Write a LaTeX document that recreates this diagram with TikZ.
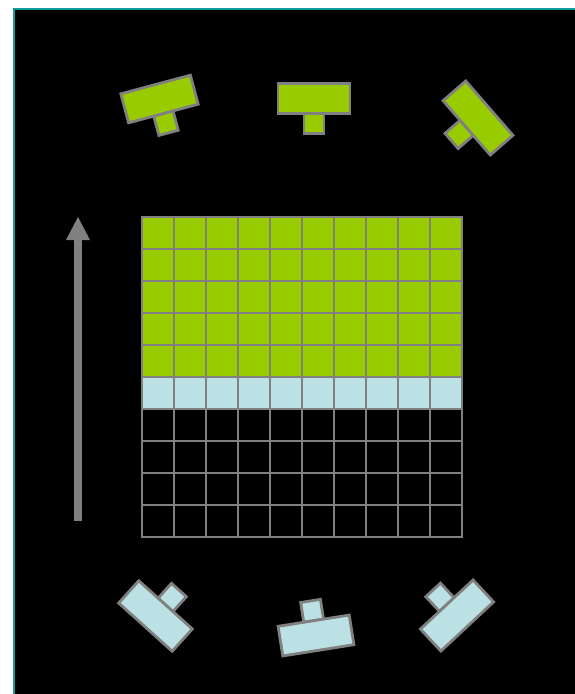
\documentclass[tikz,border=0pt]{standalone}
\definecolor{tgreen}{HTML}{99CC00}
\definecolor{tblue}{HTML}{BBE1E5}
\definecolor{tgray}{HTML}{808080}
\definecolor{tteal}{HTML}{139A9A}
\tikzset{
  gridline/.style={draw=tgray, line width=2.8pt},
  tshape/.pic={
    \fill[#1, draw=tgray, line width=2.8pt] (-10,15) rectangle (10,35);
    \fill[#1, draw=tgray, line width=2.8pt] (-36,-15) rectangle (36,15);
  },
  tshapeup/.pic={
    \fill[#1, draw=tgray, line width=2.8pt] (-10,-15) rectangle (10,-35);
    \fill[#1, draw=tgray, line width=2.8pt] (-36,-15) rectangle (36,15);
  }
}
\begin{document}
\begin{tikzpicture}[x=1pt,y=-1pt]
\useasboundingbox (0,0) rectangle (575,694);
\fill[white] (0,0) rectangle (575,694);
\fill[black] (14,9) rectangle (575,694);
\draw[tteal, line width=2.5pt] (14,694) -- (14,9) -- (575,9);
% grid fills
\fill[tgreen] (142,217) rectangle (462,377);
\fill[tblue] (142,377) rectangle (462,409);
\foreach \i in {0,...,10} {
  \draw[gridline] ({142+32*\i},217) -- ({142+32*\i},537);
  \draw[gridline] (142,{217+32*\i}) -- (462,{217+32*\i});
}
\draw[gridline, line join=miter] (142,217) rectangle (462,537);
% arrow
\fill[tgray] (74,240) rectangle (82,521);
\fill[tgray] (66,240) -- (78,217) -- (90,240) -- cycle;
% top pieces
\pic[shift={(159.5,99)}, rotate=15] {tshape=tgreen};
\pic[shift={(314,98.5)}] {tshape=tgreen};
\pic[shift={(478,118)}, rotate=-49] {tshape=tgreen};
% bottom pieces
\pic[shift={(155.5,616)}, rotate=-42] {tshapeup=tblue};
\pic[shift={(316,635.5)}, rotate=9] {tshapeup=tblue};
\pic[shift={(457,615.5)}, rotate=43] {tshapeup=tblue};
\end{tikzpicture}
\end{document}
